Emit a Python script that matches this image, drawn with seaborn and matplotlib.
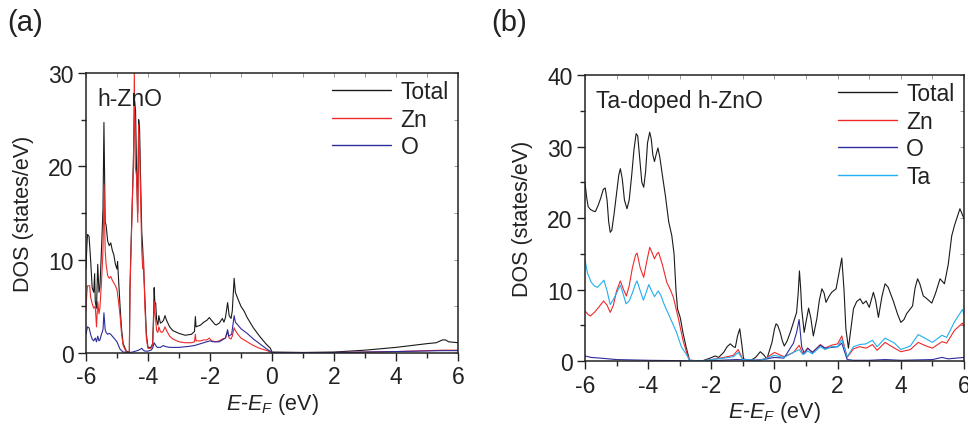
import numpy as np
import pandas as pd
import seaborn as sns
import matplotlib
matplotlib.use("Agg")
import matplotlib.pyplot as plt
from matplotlib.ticker import MultipleLocator

sns.set_theme(style="white")
plt.rcParams['font.family'] = ['Liberation Sans', 'DejaVu Sans']
plt.rcParams['mathtext.fontset'] = 'custom'
plt.rcParams['mathtext.rm'] = 'Liberation Sans'
plt.rcParams['mathtext.it'] = 'Liberation Sans:italic'

# ---------------- Panel (a): h-ZnO ----------------
a_total_x = [-6.0, -5.97, -5.95, -5.9, -5.85, -5.8, -5.75, -5.72, -5.7, -5.66, -5.62, -5.58, -5.55, -5.5,
             -5.45, -5.42, -5.38, -5.35, -5.3, -5.25, -5.2, -5.15, -5.1, -5.05, -5.0, -4.98, -4.95, -4.9,
             -4.85, -4.8, -4.7, -4.6, -4.58, -4.55, -4.5, -4.47, -4.43, -4.4, -4.37, -4.33, -4.3, -4.27,
             -4.24, -4.2, -4.17, -4.14, -4.1, -4.05, -4.0, -3.9, -3.85, -3.82, -3.8, -3.78, -3.75, -3.72,
             -3.68, -3.65, -3.6, -3.55, -3.5, -3.45, -3.4, -3.3, -3.2, -3.0, -2.8, -2.6, -2.5, -2.47, -2.45,
             -2.3, -2.2, -2.1, -2.02, -1.95, -1.85, -1.8, -1.7, -1.6, -1.55, -1.5, -1.43, -1.38, -1.32,
             -1.28, -1.22, -1.18, -1.1, -1.0, -0.9, -0.8, -0.6, -0.4, -0.2, -0.05, 0.0, 1.0, 2.0, 3.0, 4.0,
             5.0, 5.3, 5.5, 5.6, 5.7, 6.0]
a_total_y = [9.0, 11.5, 12.7, 12.5, 10.0, 7.0, 6.5, 8.5, 5.5, 4.8, 9.5, 6.5, 7.0, 11.0,
             15.5, 24.7, 14.0, 13.7, 12.0, 11.5, 11.8, 11.0, 10.5, 9.5, 9.0, 9.8, 8.0, 5.0,
             2.5, 1.0, 0.2, 0.1, 7.0, 11.0, 17.0, 20.5, 27.0, 26.0, 20.0, 15.0, 25.0, 24.0,
             19.0, 13.0, 11.3, 9.0, 6.0, 2.0, 0.6, 0.6, 1.0, 4.0, 7.0, 5.5, 5.3, 3.5,
             3.0, 4.0, 3.2, 3.3, 3.5, 4.0, 3.5, 2.8, 2.4, 2.1, 1.9, 2.0, 2.3, 3.9, 2.8,
             3.0, 3.3, 3.5, 3.8, 3.5, 3.1, 3.0, 3.2, 3.7, 3.3, 3.8, 5.4, 4.0, 3.7,
             4.5, 8.0, 6.5, 5.8, 5.0, 4.5, 3.8, 2.7, 1.8, 1.0, 0.5, 0.1, 0.05, 0.1, 0.3, 0.6,
             1.0, 1.1, 1.4, 1.4, 1.2, 1.1]

a_zn_x = [-6.0, -5.97, -5.95, -5.88, -5.85, -5.8, -5.75, -5.7, -5.66, -5.62, -5.58, -5.55, -5.5, -5.45,
          -5.42, -5.38, -5.35, -5.3, -5.25, -5.2, -5.15, -5.1, -5.05, -5.0, -4.95, -4.9, -4.85, -4.8,
          -4.7, -4.6, -4.58, -4.55, -4.5, -4.47, -4.44, -4.41, -4.37, -4.33, -4.3, -4.27, -4.24, -4.2,
          -4.17, -4.14, -4.1, -4.05, -4.0, -3.9, -3.85, -3.82, -3.8, -3.78, -3.75, -3.72, -3.68, -3.65,
          -3.6, -3.55, -3.5, -3.45, -3.4, -3.3, -3.2, -3.0, -2.8, -2.6, -2.5, -2.47, -2.45, -2.3, -2.2,
          -2.1, -2.02, -1.95, -1.8, -1.7, -1.6, -1.5, -1.43, -1.38, -1.32, -1.28, -1.22, -1.18, -1.1,
          -1.0, -0.8, -0.6, -0.4, -0.2, 0.0, 2.0, 4.0, 5.5, 6.0]
a_zn_y = [4.5, 6.5, 7.2, 7.2, 6.0, 5.3, 4.8, 5.0, 2.8, 5.5, 4.2, 4.8, 7.5, 11.0,
          18.0, 11.0, 9.5, 8.3, 8.0, 8.2, 7.8, 7.5, 7.2, 6.8, 5.5, 4.0, 2.0, 0.8,
          0.1, 0.1, 6.5, 10.5, 16.5, 20.0, 30.0, 20.0, 19.0, 14.0, 24.5, 22.0, 17.0, 11.0,
          9.0, 10.0, 5.0, 1.5, 0.5, 0.5, 0.8, 3.0, 5.5, 4.5, 3.5, 2.4, 2.2, 2.8,
          2.3, 2.2, 2.4, 2.8, 2.4, 1.8, 1.5, 1.2, 1.1, 1.1, 1.2, 2.0, 1.3, 1.3, 1.4,
          1.4, 1.6, 1.3, 1.2, 1.3, 1.5, 1.6, 2.3, 1.6, 1.5, 1.8, 2.7, 2.4, 2.0,
          1.6, 1.2, 0.8, 0.5, 0.3, 0.05, 0.05, 0.15, 0.3, 0.3]

a_o_x = [-6.0, -5.95, -5.9, -5.85, -5.8, -5.75, -5.7, -5.66, -5.62, -5.58, -5.55, -5.5, -5.45, -5.42,
         -5.38, -5.35, -5.3, -5.25, -5.2, -5.1, -5.0, -4.95, -4.9, -4.8, -4.6, -4.5, -4.4, -4.3, -4.2,
         -4.15, -4.1, -4.0, -3.9, -3.85, -3.8, -3.75, -3.7, -3.6, -3.5, -3.45, -3.3, -3.0, -2.7, -2.5,
         -2.3, -2.1, -2.0, -1.9, -1.7, -1.6, -1.5, -1.43, -1.4, -1.3, -1.22, -1.18, -1.1, -1.0, -0.8,
         -0.6, -0.4, -0.2, 0.0, 2.0, 4.0, 5.5, 6.0]
a_o_y = [2.0, 2.8, 2.7, 2.0, 1.5, 1.3, 1.6, 1.2, 1.8, 1.3, 1.4, 2.0, 2.5, 4.3,
         2.5, 2.2, 2.0, 2.1, 2.0, 1.6, 1.2, 0.8, 0.4, 0.1, 0.05, 0.1, 0.2, 0.3, 0.5,
         0.3, 0.2, 0.2, 0.3, 0.5, 1.1, 0.8, 0.6, 0.6, 0.8, 0.7, 0.6, 0.6, 0.7, 0.8,
         1.0, 1.2, 1.3, 1.2, 1.2, 1.4, 1.6, 2.5, 1.8, 2.0, 4.0, 3.3, 3.0, 2.6, 2.1,
         1.5, 1.0, 0.5, 0.05, 0.05, 0.15, 0.25, 0.25]

# ---------------- Panel (b): Ta-doped h-ZnO ----------------
b_total_x = [-6.0, -5.95, -5.9, -5.83, -5.75, -5.67, -5.58, -5.5, -5.42, -5.36, -5.3, -5.25, -5.2, -5.15,
             -5.08, -5.0, -4.93, -4.88, -4.82, -4.75, -4.67, -4.6, -4.52, -4.45, -4.38, -4.33, -4.27, -4.2,
             -4.14, -4.08, -4.02, -3.95, -3.9, -3.85, -3.8, -3.74, -3.69, -3.63, -3.55, -3.45, -3.35, -3.25,
             -3.18, -3.12, -3.07, -2.98, -2.9, -2.8, -2.69, -2.3, -2.04, -1.88, -1.77, -1.61, -1.5, -1.4,
             -1.3, -1.24, -1.17, -1.1, -1.04, -0.98, -0.77, -0.6, -0.45, -0.35, -0.24, -0.08, 0.0, 0.05,
             0.1, 0.18, 0.25, 0.31, 0.4, 0.5, 0.65, 0.7, 0.75, 0.79, 0.83, 0.86, 0.94, 1.0, 1.08, 1.15,
             1.23, 1.34, 1.42, 1.5, 1.57, 1.63, 1.72, 1.81, 1.95, 2.05, 2.13, 2.2, 2.26, 2.34, 2.42, 2.5,
             2.6, 2.71, 2.8, 2.9, 3.0, 3.13, 3.2, 3.29, 3.4, 3.5, 3.6, 3.76, 3.9, 4.0, 4.1, 4.18, 4.37,
             4.45, 4.53, 4.6, 4.71, 4.8, 4.98, 5.1, 5.24, 5.38, 5.5, 5.61, 5.7, 5.87, 6.0]
b_total_y = [25.0, 23.0, 21.6, 21.2, 21.0, 20.9, 21.8, 22.8, 24.0, 24.2, 22.5, 19.5, 18.0, 18.3,
             20.5, 23.5, 26.0, 26.9, 25.5, 22.5, 21.3, 22.5, 26.0, 29.5, 31.8, 31.5, 28.5, 25.0,
             24.3, 26.5, 30.5, 32.0, 31.0, 28.8, 27.9, 29.0, 29.8, 28.5, 26.0, 23.0, 19.5, 17.5,
             15.0, 10.0, 7.3, 6.0, 4.0, 2.0, 0.1, 0.0, 0.4, 0.7, 0.5, 1.2, 2.0, 2.4,
             2.0, 1.9, 3.5, 4.5, 2.5, 0.3, 0.05, 0.5, 1.3, 0.9, 0.3, 2.6, 4.5, 5.2,
             5.0, 4.0, 2.8, 2.1, 2.8, 4.0, 6.1, 6.8, 9.5, 12.6, 10.0, 7.3, 4.0, 5.5, 7.4, 6.0,
             3.5, 5.9, 8.5, 10.1, 9.5, 8.2, 9.0, 9.6, 10.1, 12.5, 14.4, 10.0, 4.5, 1.8, 4.5, 7.3,
             8.3, 8.7, 8.0, 8.4, 7.5, 9.6, 8.5, 6.1, 9.0, 10.8, 10.3, 8.4, 6.5, 5.4, 5.8, 6.6, 7.7,
             10.2, 11.5, 10.8, 9.1, 8.8, 8.1, 9.5, 11.5, 10.8, 13.5, 17.5, 19.0, 21.3, 19.9]

b_zn_x = [-6.0, -5.9, -5.83, -5.7, -5.55, -5.41, -5.3, -5.2, -5.1, -5.0, -4.88, -4.78, -4.69, -4.6,
          -4.5, -4.4, -4.35, -4.25, -4.14, -4.05, -3.95, -3.88, -3.8, -3.72, -3.67, -3.55, -3.41, -3.3,
          -3.2, -3.1, -3.04, -2.95, -2.88, -2.78, -2.69, -2.3, -2.0, -1.6, -1.3, -1.15, -1.0, -0.6, -0.3,
          0.0, 0.3, 0.6, 0.78, 0.9, 1.05, 1.2, 1.45, 1.6, 1.8, 2.0, 2.13, 2.3, 2.5, 2.7, 2.9, 3.1, 3.25,
          3.5, 3.8, 4.0, 4.3, 4.55, 4.8, 5.0, 5.3, 5.45, 5.7, 5.95, 6.0]
b_zn_y = [7.0, 6.5, 6.3, 6.8, 7.6, 8.4, 7.8, 6.8, 7.8, 9.8, 11.2, 10.0, 9.1, 10.5,
          13.0, 14.8, 15.1, 13.0, 11.7, 13.8, 15.9, 15.2, 14.3, 15.0, 15.2, 13.5, 11.0, 10.0,
          8.9, 7.0, 5.9, 4.0, 2.6, 1.2, 0.1, 0.0, 0.2, 0.5, 0.8, 1.6, 0.2, 0.1, 0.3,
          1.2, 0.6, 1.2, 2.2, 1.0, 1.8, 1.2, 2.3, 1.8, 2.2, 2.4, 3.5, 0.5, 1.7, 2.0, 1.8, 2.3, 1.5,
          2.6, 1.8, 1.3, 1.6, 2.6, 2.1, 1.8, 2.7, 2.5, 4.3, 5.3, 4.8]

b_o_x = [-6.0, -5.8, -5.5, -5.0, -4.0, -3.0, -2.7, -2.0, -1.2, -0.5, 0.0, 0.3, 0.6, 0.7, 0.78, 0.86,
         0.95, 1.05, 1.2, 1.45, 1.6, 1.8, 2.0, 2.13, 2.3, 2.5, 3.0, 3.5, 4.0, 5.0, 5.3, 5.5, 6.0]
b_o_y = [0.7, 0.5, 0.4, 0.2, 0.1, 0.05, 0.0, 0.05, 0.2, 0.1, 0.5, 0.4, 2.5, 4.0, 5.8, 2.0,
         1.0, 1.8, 1.2, 2.2, 1.8, 1.9, 2.0, 2.5, 0.2, 0.1, 0.1, 0.2, 0.1, 0.2, 0.5, 0.3, 0.5]

b_ta_x = [-6.0, -5.92, -5.8, -5.7, -5.6, -5.5, -5.4, -5.3, -5.2, -5.1, -5.0, -4.88, -4.8, -4.7,
          -4.6, -4.5, -4.4, -4.35, -4.25, -4.15, -4.07, -3.98, -3.9, -3.8, -3.74, -3.68, -3.6, -3.5,
          -3.3, -3.1, -2.95, -2.8, -2.69, -2.3, -2.0, -1.6, -1.3, -1.15, -1.0, -0.5, -0.3, 0.0,
          0.3, 0.6, 0.78, 0.9, 1.05, 1.2, 1.45, 1.6, 1.8, 2.0, 2.13, 2.3, 2.5, 2.7, 2.9, 3.1, 3.25, 3.5,
          3.8, 4.0, 4.3, 4.55, 4.8, 5.0, 5.3, 5.45, 5.7, 5.95, 6.0]
b_ta_y = [14.2, 12.3, 11.0, 10.5, 10.3, 10.8, 11.3, 9.8, 7.9, 8.6, 9.5, 10.6, 9.5, 8.0,
          8.4, 9.5, 10.8, 11.2, 9.8, 8.5, 9.5, 10.7, 9.9, 9.0, 9.4, 9.8, 9.2, 8.0,
          6.0, 4.0, 2.0, 1.0, 0.1, 0.0, 0.2, 0.4, 0.6, 1.2, 0.2, 0.1, 0.3, 0.8,
          0.5, 1.2, 1.6, 0.9, 1.4, 1.0, 2.0, 1.6, 2.0, 2.0, 3.0, 0.6, 2.0, 2.3, 2.4, 2.9, 2.0, 3.2,
          2.5, 1.6, 2.1, 3.7, 3.1, 2.6, 3.6, 3.3, 5.5, 7.2, 6.5]

x_ticks = [-6, -4, -2, 0, 2, 4, 6]
a_title = "h-ZnO"
b_title = "Ta-doped h-ZnO"

C_TOTAL = "#1a1a1a"
C_ZN = "#ee2a2a"
C_O = "#2c2c9c"
C_TA = "#22aef0"

fig = plt.figure(figsize=(9.68, 4.27), dpi=100)
ax_a = fig.add_axes([0.0888, 0.171, 0.3843, 0.6557])
ax_b = fig.add_axes([0.6043, 0.1522, 0.3916, 0.6698])

LW = 0.8
FS = 16.5
LFS = 15.5

def draw(ax, series):
    for xs, ys, col, lab in series:
        df = pd.DataFrame({"E": xs, "DOS": ys})
        sns.lineplot(data=df, x="E", y="DOS", color=col, linewidth=LW, label=lab,
                     ax=ax, sort=False, estimator=None)

draw(ax_a, [(a_total_x, a_total_y, C_TOTAL, "Total"),
            (a_zn_x, a_zn_y, C_ZN, "Zn"),
            (a_o_x, a_o_y, C_O, "O")])
draw(ax_b, [(b_total_x, b_total_y, C_TOTAL, "Total"),
            (b_zn_x, b_zn_y, C_ZN, "Zn"),
            (b_o_x, b_o_y, C_O, "O"),
            (b_ta_x, b_ta_y, C_TA, "Ta")])

for ax, ymax, ystep, title in [(ax_a, 30, 10, a_title), (ax_b, 40, 10, b_title)]:
    ax.set_xlim(-6, 6)
    ax.set_ylim(0, ymax)
    ax.set_xticks(x_ticks)
    ax.set_xticklabels([str(t) for t in x_ticks])
    ax.yaxis.set_major_locator(MultipleLocator(ystep))
    ax.xaxis.set_minor_locator(MultipleLocator(1))
    ax.yaxis.set_minor_locator(MultipleLocator(ystep / 2))
    ax.tick_params(which='major', direction='out', length=6, width=1.0, labelsize=FS,
                   colors='#222222', bottom=True, left=True, top=False, right=False, pad=3)
    ax.tick_params(which='minor', direction='out', length=3.5, width=1.0,
                   bottom=True, left=True, top=False, right=False)
    for s in ax.spines.values():
        s.set_color('#222222')
        s.set_linewidth(1.1)
    sec_x = ax.secondary_xaxis('top')
    sec_x.set_xticks(list(np.arange(-6, 7, 1)))
    sec_x.tick_params(direction='in', length=3, width=0.6, labeltop=False, colors='#888888')
    sec_x.spines['top'].set_visible(False)
    sec_y = ax.secondary_yaxis('right')
    sec_y.set_yticks(list(np.arange(0, ymax + 1, ystep / 2)))
    sec_y.tick_params(direction='in', length=3, width=0.6, labelright=False, colors='#888888')
    sec_y.spines['right'].set_visible(False)

    ax.set_xlabel(r"$\it{E}$-$\it{E}_{\it{F}}$ (eV)", fontsize=LFS, color='#222222', labelpad=2)
    ax.set_ylabel("DOS (states/eV)", fontsize=LFS, color='#222222', labelpad=10)
    ax.text(0.03, 0.95, title, transform=ax.transAxes, fontsize=FS, va='top', ha='left',
            color='#222222')
    ax.grid(False)

leg_a = ax_a.legend(loc='upper right', bbox_to_anchor=(0.975, 0.975), frameon=False,
                    fontsize=FS, handlelength=2.6, handletextpad=0.4, labelspacing=0.2,
                    borderpad=0, borderaxespad=0)
leg_b = ax_b.legend(loc='upper right', bbox_to_anchor=(0.975, 0.975), frameon=False,
                    fontsize=FS, handlelength=2.6, handletextpad=0.4, labelspacing=0.2,
                    borderpad=0, borderaxespad=0)
for leg in (leg_a, leg_b):
    for t in leg.get_texts():
        t.set_color('#222222')
    for h in leg.get_lines():
        h.set_linewidth(1.0)

fig.text(0.008, 0.98, "(a)", fontsize=21, va='top', ha='left', color='#222222')
fig.text(0.508, 0.98, "(b)", fontsize=21, va='top', ha='left', color='#222222')

fig.savefig("out.png", dpi=100)
